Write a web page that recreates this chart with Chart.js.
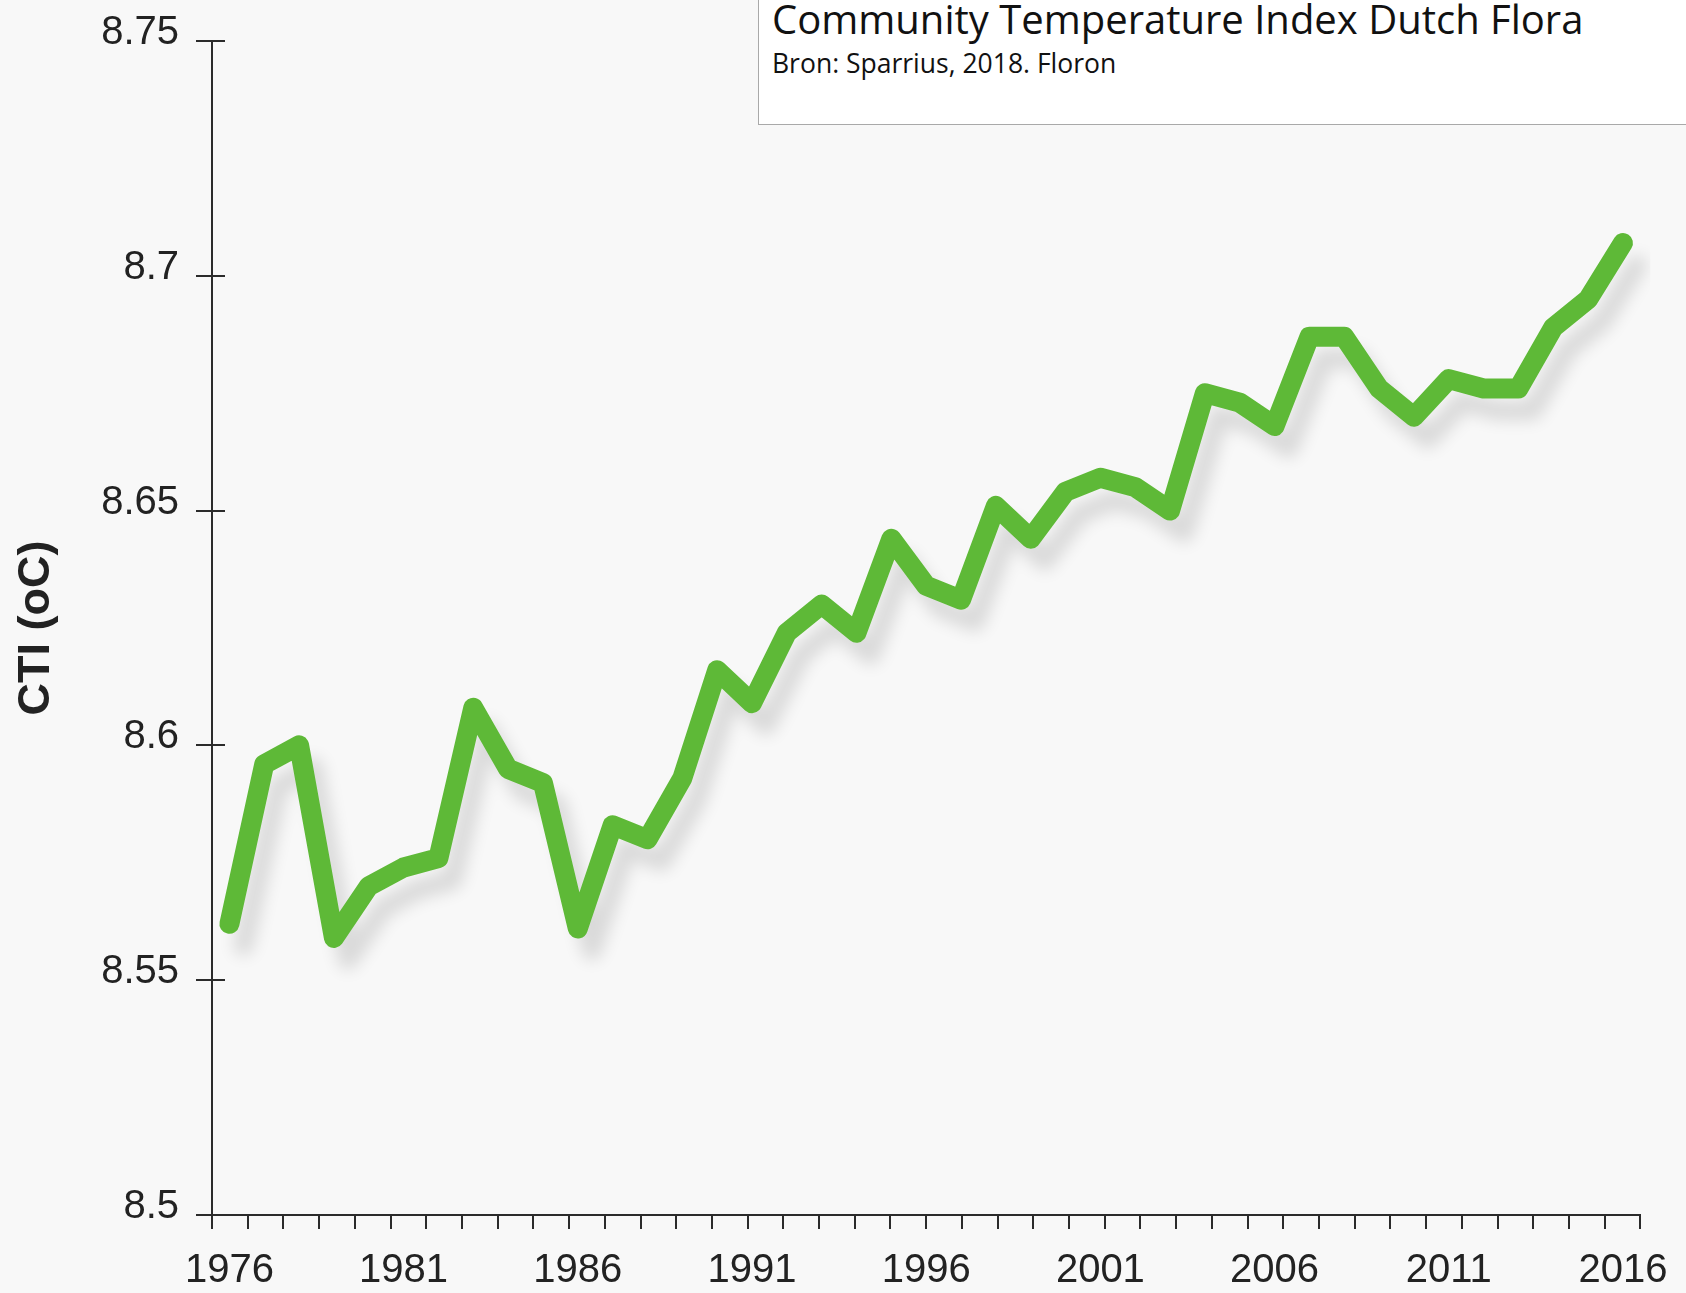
<!DOCTYPE html>
<html>
<head>
<meta charset="utf-8">
<script src="https://cdn.jsdelivr.net/npm/chart.js@4.4.1/dist/chart.umd.min.js"></script>
<style>
  html, body { margin: 0; padding: 0; background: #f8f8f8; overflow: hidden; }
  #wrap { position: relative; width: 1686px; height: 1293px; }
  #kader {
    position: absolute; left: 758px; top: -1px; width: 940px; height: 126px;
    background: #fff; border: 1px solid #a9a9a9; box-sizing: border-box;
  }
  #kader .titel {
    position: absolute; left: 13px; top: -9px; margin: 0;
    font: 40px "Open Sans", sans-serif; color: #111; white-space: nowrap;
  }
  #kader .bron {
    position: absolute; left: 13px; top: 45px; margin: 0;
    font: 26.5px "Open Sans", sans-serif; color: #111; white-space: nowrap;
  }
</style>
</head>
<body>
<div id="wrap">
  <canvas id="cti" width="1686" height="1293"></canvas>
  <div id="kader">
    <p class="titel">Community Temperature Index Dutch Flora</p>
    <p class="bron">Bron: Sparrius, 2018. Floron</p>
  </div>
</div>
<script>
// jaren en CTI-waarden (oC)
const jaren = [];
for (let j = 1976; j <= 2016; j++) jaren.push(String(j));

const cti = [
  8.562, 8.596, 8.600, 8.559, 8.570, 8.574, 8.576, 8.608, 8.595, 8.592,
  8.561, 8.583, 8.580, 8.593, 8.616, 8.609, 8.624, 8.630, 8.624, 8.644,
  8.634, 8.631, 8.651, 8.644, 8.654, 8.657, 8.655, 8.650, 8.675, 8.673,
  8.668, 8.687, 8.687, 8.676, 8.670, 8.678, 8.676, 8.676, 8.689, 8.695,
  8.707
];

const yTicks = [8.5, 8.55, 8.6, 8.65, 8.7, 8.75];

const asKleur = "#2b2b2b";
const tekstKleur = "#222";
const binnenLengte = 14;

// schaduw onder de lijn + streepjes die op de y-as ook naar binnen steken
const opmaak = {
  id: "opmaak",
  beforeDatasetDraw(chart) {
    const c = chart.ctx;
    c.save();
    c.shadowColor = "rgba(0,0,0,0.12)";
    c.shadowBlur = 16;
    c.shadowOffsetX = 14;
    c.shadowOffsetY = 22;
  },
  afterDatasetDraw(chart) {
    chart.ctx.restore();
  },
  afterDraw(chart) {
    const y = chart.scales.y;
    const x0 = chart.chartArea.left;
    const c = chart.ctx;
    c.save();
    c.fillStyle = asKleur;
    for (const v of yTicks) {
      const py = Math.round(y.getPixelForValue(v));
      c.fillRect(x0 - 1, py - 1, binnenLengte, 2);
    }
    c.restore();
  }
};

let ctiChart = new Chart(document.getElementById("cti").getContext("2d"), {
  type: "line",
  data: {
    labels: jaren,
    datasets: [{
      label: "CTI",
      data: cti,
      borderColor: "#5eb937",
      borderWidth: 20,
      borderJoinStyle: "round",
      borderCapStyle: "round",
      pointRadius: 0,
      tension: 0,
      fill: false
    }]
  },
  options: {
    responsive: false,
    animation: false,
    layout: { padding: { top: 39, right: 40, left: 0, bottom: 0 } },
    plugins: {
      legend: { display: false },
      tooltip: { enabled: false }
    },
    scales: {
      x: {
        type: "category",
        position: "bottom",
        offset: true,
        weight: 1,
        grid: { display: false, drawTicks: false },
        border: { display: false },
        ticks: {
          autoSkip: false,
          maxRotation: 0,
          padding: 18,
          color: tekstKleur,
          font: { family: "Liberation Sans", size: 40 },
          callback: function (v) {
            const jaar = Number(this.getLabelForValue(v));
            return (jaar - 1976) % 5 === 0 ? String(jaar) : "";
          }
        },
        afterFit(s) { s.height = 64; }
      },
      xStreep: {
        type: "linear",
        position: "bottom",
        min: 0,
        max: 40,
        weight: 0,
        ticks: { display: false, stepSize: 1, maxTicksLimit: 60 },
        grid: { drawOnChartArea: false, tickLength: 14, color: asKleur, lineWidth: 2 },
        border: { color: asKleur, width: 2 },
        afterFit(s) { s.height = 14; }
      },
      y: {
        min: 8.5,
        max: 8.75,
        afterBuildTicks(s) { s.ticks = yTicks.map(v => ({ value: v })); },
        ticks: {
          padding: 17,
          labelOffset: -8,
          color: tekstKleur,
          font: { family: "Liberation Sans", size: 40 },
          callback: v => String(+v.toFixed(2))
        },
        grid: { drawOnChartArea: false, tickLength: 16, color: asKleur, lineWidth: 2 },
        border: { color: asKleur, width: 2 },
        title: {
          display: true,
          text: "CTI (oC)",
          color: tekstKleur,
          font: { family: "Liberation Sans", size: 45, weight: "bold" },
          padding: { top: 10, bottom: 0 }
        },
        afterFit(s) { s.width = 212; }
      }
    }
  },
  plugins: [opmaak]
});
</script>
</body>
</html>
